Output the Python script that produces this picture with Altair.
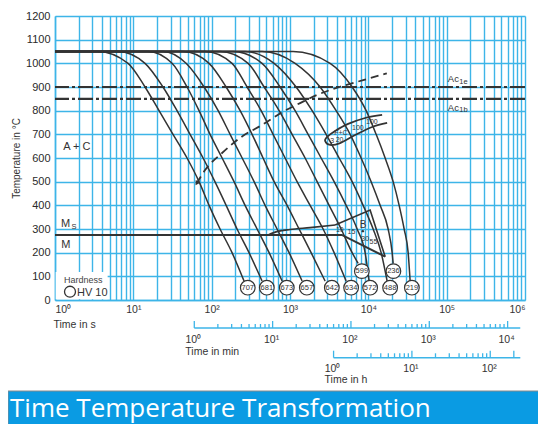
import altair as alt
import pandas as pd

BLUE = "#3db5e8"
INK = "#333333"
FONT = "Liberation Sans"

# ---------------- cooling curves (time in s at the listed temperatures) -------------
TEMPS = [1050, 1050, 1000, 900, 800, 700, 600, 500, 400, 300, 200]
T707 = [1, 3.54, 8.56, 14.1, 21.3, 32.1, 48.5, 69.0, 92.6, 128, 182, 259]
T681 = [1, 6.38, 14.1, 23.9, 36.1, 53.0, 77.7, 110, 153, 211, 300, 440]
T673 = [1, 15.4, 31.2, 48.5, 69.0, 95.4, 136, 193, 267, 380, 541, 793]
T657 = [1, 23.9, 47.1, 80.0, 121, 172, 245, 348, 481, 684, 974, 1427]
T642 = [1, 43.1, 92.6, 153, 231, 328, 453, 627, 918, 1307, 1860, 2808]
T634 = [1, 82.4, 182, 283, 428, 608, 866, 1232, 1806, 2647, 3657, 5207]
T599 = [1, 128, 292, 467, 726, 1064, 1559, 2219, 3158, 4494, 6211, 7409]
T572 = [1, 188, 440, 747, 1162, 1703, 2496, 3657, 5207, 7194, 9100, 10240]
T488 = [1, 267, 627, 1197, 1916, 2891, 4238, 6211, 8582, 11520, 14570, 17380]
T236 = [1, 440, 1162, 2423, 3880, 5856, 8091, 10860, 14150, 17900, 20140, 20740]
T219 = [1, 1095, 3252, 6211, 9374, 12580, 16390, 20740, 24740, 28660, 32240, 34180]
CURVES = [("707", T707, 80), ("681", T681, 80), ("673", T673, 80), ("657", T657, 80),
          ("642", T642, 80), ("634", T634, 80), ("599", T599, 155), ("572", T572, 80),
          ("488", T488, 80), ("236", T236, 155), ("219", T219, 80)]

# hardness circles
HV_LABEL = ["707", "681", "673", "657", "642", "634", "572", "488", "219", "599", "236"]
HV_TIME = [289, 506, 910, 1640, 3420, 6030, 10540, 18970, 35970, 8260, 20900]
HV_TEMP = [52, 52, 52, 52, 52, 52, 52, 52, 52, 122, 122]

# Ac1e / Ac1b
AC_TEMPS = [900, 850]

# martensite line + bainite region
M_TIME = [1, 4590, 16390]
M_TEMP = [275, 275, 183]
BS_TIME = [525, 700, 1000, 1800, 3767]
BS_TEMP = [275, 290, 298, 306, 317]
BTRI_TIME = [3767, 10540, 16390]
BTRI_TEMP = [317, 380, 183]

# pearlite (F+C) loop
P_TIME = [15000, 9100, 5520, 3767, 2978, 2808, 3252, 4365, 6780, 11190, 17380]
P_TEMP = [782, 769, 744, 714, 689, 672, 655, 663, 697, 731, 748]

# dashed precipitation curve
D_TIME = [64.5, 82.4, 134.6, 242, 436, 816, 1346, 2198, 4365, 8590, 17220]
D_TEMP = [493, 549, 620, 690, 739, 796, 832, 866, 901, 929, 958]

# texts in plot
LBL_TEXT = ["A + C", "M", "M", "Ac", "Ac", "B"]
LBL_TIME = [1.27, 1.19, 1.2, 1.035e5, 1.035e5, 7786]
LBL_TEMP = [634, 308, 221, 921, 800, 305]
LBL_SIZE = [11, 11, 11, 9.5, 9.5, 10]
SUB_TEXT = ["S", "1e", "1b"]
SUB_TIME = [1.62, 1.45e5, 1.45e5]
SUB_TEMP = [300, 912, 793]
PCT_TEXT = ["10", "15", "30", "55", "F+C", "3", "20", "100", "100"]
PCT_TIME = [4325, 6083, 9100, 11620, 4467, 3450, 4300, 7362, 11090]
PCT_TEMP = [286, 279, 249, 237, 697, 662, 668, 718, 744]
DOT_TIME = [8510]
DOT_TEMP = [291]

# hardness legend
LEG_BOX = dict(t=[1.02], t2=[4.7], T=[3], T2=[118])

# secondary time axes
MIN_MAJOR = [1, 10, 100, 1000, 10000]
MIN_MINOR = [m * 10 ** k for k in range(4) for m in range(2, 10)]
MIN_SPAN = [1, 14500]
HR_MAJOR = [1, 10, 100, 200]
HR_LABELS = [1, 10, 100]
HR_MINOR = [m * 10 ** k for k in range(2) for m in range(2, 10)]
HR_SPAN = [1, 242]

SUP = {0: "\u2070", 1: "\u00b9", 2: "\u00b2", 3: "\u00b3", 4: "\u2074", 5: "\u2075", 6: "\u2076"}

# ---------------- scales / axes ----------------
XS = alt.Scale(type="log", domain=[1, 1e6], nice=False)
YS = alt.Scale(domain=[0, 1200], nice=False, zero=False)

X_GRID = [m * 10 ** k for k in range(6) for m in range(1, 10)] + [10 ** 6]
label_expr = " : ".join(f"datum.value == {10**k} ? '10{SUP[k]}'" for k in range(7)) + " : ''"

x_axis = alt.Axis(values=X_GRID, labelExpr=label_expr, grid=True, gridColor=BLUE, gridWidth=1.4,
                  domainColor=BLUE, domainWidth=1.5, ticks=False, tickSize=0, labelPadding=4,
                  labelFont=FONT, labelFontSize=10.5, labelColor=INK, labelFlush=True,
                  labelOverlap=False, title="Time in s", titleX=-2, titleY=27, titleAlign="left",
                  titleBaseline="alphabetic", titleFont=FONT, titleFontSize=10.5,
                  titleFontWeight="normal", titleColor=INK)
y_axis = alt.Axis(values=list(range(0, 1201, 100)), format="d", grid=True, gridColor=BLUE,
                  gridWidth=1.4, domainColor=BLUE, domainWidth=1.5, ticks=False, tickSize=0,
                  labelPadding=5, labelFont=FONT, labelFontSize=11, labelColor="#2a2a2a",
                  labelFlush=False, title="Temperature in \u00b0C", titleX=-34, titleY=142,
                  titleAngle=270, titleAlign="center", titleBaseline="bottom", titleFont=FONT,
                  titleFontSize=10, titleFontWeight="normal", titleColor=INK)


def X(f="t"):
    return alt.X(f"{f}:Q", scale=XS, axis=x_axis)


def Y(f="T"):
    return alt.Y(f"{f}:Q", scale=YS, axis=y_axis)


# ---------------- data frames ----------------
rows = []
for hv, times, tend in CURVES:
    temps = TEMPS + [tend]
    for i, (t, T) in enumerate(zip(times, temps)):
        rows.append({"hv": hv, "i": i, "t": t, "T": T})
curves_df = pd.DataFrame(rows)

base = alt.Chart(curves_df).mark_line(color=INK, strokeWidth=1.5, interpolate="monotone").encode(
    x=X(), y=Y(), detail="hv:N", order="i:Q")

legend_box = alt.Chart(pd.DataFrame(LEG_BOX)).mark_rect(fill="white").encode(
    x=X(), x2="t2:Q", y=Y(), y2="T2:Q")

ac_lines = alt.Chart(pd.DataFrame({"T": AC_TEMPS})).mark_rule(
    color=INK, strokeWidth=2.2, strokeDash=[15, 3, 3, 3]).encode(y=Y())

m_line = alt.Chart(pd.DataFrame({"t": M_TIME, "T": M_TEMP, "i": range(len(M_TIME))})).mark_line(
    color=INK, strokeWidth=2).encode(x=X(), y=Y(), order="i:Q")
bs_line = alt.Chart(pd.DataFrame({"t": BS_TIME, "T": BS_TEMP, "i": range(len(BS_TIME))})).mark_line(
    color=INK, strokeWidth=1.6, interpolate="monotone").encode(x=X(), y=Y(), order="i:Q")
btri = alt.Chart(pd.DataFrame({"t": BTRI_TIME, "T": BTRI_TEMP, "i": range(len(BTRI_TIME))})).mark_line(
    color=INK, strokeWidth=1.6).encode(x=X(), y=Y(), order="i:Q")

pearl = alt.Chart(pd.DataFrame({"t": P_TIME, "T": P_TEMP, "i": range(len(P_TIME))})).mark_line(
    color=INK, strokeWidth=1.8, interpolate="cardinal").encode(x=X(), y=Y(), order="i:Q")

dashed = alt.Chart(pd.DataFrame({"t": D_TIME, "T": D_TEMP, "i": range(len(D_TIME))})).mark_line(
    color=INK, strokeWidth=1.8, strokeDash=[8, 5], interpolate="monotone").encode(
    x=X(), y=Y(), order="i:Q")
arrow = alt.Chart(pd.DataFrame({"t": D_TIME[:1], "T": D_TEMP[:1]})).mark_point(
    shape="triangle-up", angle=212, size=28, filled=True, color=INK, opacity=1).encode(x=X(), y=Y())

circ_df = pd.DataFrame({"t": HV_TIME, "T": HV_TEMP, "lab": HV_LABEL})
circles = alt.Chart(circ_df).mark_point(shape="circle", size=215, filled=True, fill="white",
                                        stroke=INK, strokeWidth=1.2, opacity=1).encode(x=X(), y=Y())
circ_txt = alt.Chart(circ_df).mark_text(font=FONT, fontSize=7.5, color=INK, align="center",
                                        baseline="middle").encode(x=X(), y=Y(), text="lab:N")

lbl = alt.Chart(pd.DataFrame({"t": LBL_TIME, "T": LBL_TEMP, "s": LBL_TEXT, "fs": LBL_SIZE})).mark_text(
    font=FONT, color=INK, align="left", baseline="alphabetic").encode(
    x=X(), y=Y(), text="s:N", size=alt.Size("fs:Q", scale=None, legend=None))
sub = alt.Chart(pd.DataFrame({"t": SUB_TIME, "T": SUB_TEMP, "s": SUB_TEXT})).mark_text(
    font=FONT, color=INK, fontSize=7.5, align="left", baseline="alphabetic").encode(
    x=X(), y=Y(), text="s:N")
pct = alt.Chart(pd.DataFrame({"t": PCT_TIME, "T": PCT_TEMP, "s": PCT_TEXT})).mark_text(
    font=FONT, color=INK, fontSize=7, align="center", baseline="alphabetic").encode(
    x=X(), y=Y(), text="s:N")
dot = alt.Chart(pd.DataFrame({"t": DOT_TIME, "T": DOT_TEMP})).mark_point(
    shape="circle", size=6, filled=True, color=INK, opacity=1).encode(x=X(), y=Y())

leg_df = pd.DataFrame({"t": [1.30], "T": [72]})
leg_title = alt.Chart(leg_df).mark_text(text="Hardness", font=FONT, fontSize=9, color="#444",
                                        align="left", baseline="alphabetic").encode(x=X(), y=Y())
leg_circle = alt.Chart(pd.DataFrame({"t": [1.554], "T": [35]})).mark_point(
    shape="circle", size=120, stroke=INK, strokeWidth=1.3, opacity=1).encode(x=X(), y=Y())
leg_text = alt.Chart(pd.DataFrame({"t": [1.91], "T": [15]})).mark_text(
    text="HV 10", font=FONT, fontSize=11, color=INK, align="left", baseline="alphabetic").encode(
    x=X(), y=Y())


# ---------------- secondary time axes (minutes, hours) ----------------
def sec_axis(major, minor, labels, span, unit, title, y_line, y_minor, y_major, y_lab, y_title):
    layers = []
    span_df = pd.DataFrame({"t": [span[0] * unit], "t2": [span[1] * unit]})
    layers.append(alt.Chart(span_df).mark_rule(color=BLUE, strokeWidth=1.5).encode(
        x=X(), x2="t2:Q", y=alt.value(y_line)))
    layers.append(alt.Chart(pd.DataFrame({"t": [v * unit for v in minor]})).mark_rule(
        color=BLUE, strokeWidth=1.3).encode(x=X(), y=alt.value(y_line), y2=alt.value(y_minor)))
    layers.append(alt.Chart(pd.DataFrame({"t": [v * unit for v in major]})).mark_rule(
        color=BLUE, strokeWidth=1.3).encode(x=X(), y=alt.value(y_line), y2=alt.value(y_major)))
    lab_df = pd.DataFrame({"t": [v * unit for v in labels],
                           "s": ["10" + SUP[len(str(v)) - 1] for v in labels]})
    layers.append(alt.Chart(lab_df).mark_text(font=FONT, fontSize=10.5, color=INK, align="center",
                                              baseline="alphabetic", dx=-1).encode(
        x=X(), y=alt.value(y_lab), text="s:N"))
    layers.append(alt.Chart(pd.DataFrame({"t": [unit]})).mark_text(
        text=title, font=FONT, fontSize=10.5, color=INK, align="left", baseline="alphabetic",
        dx=-9).encode(x=X(), y=alt.value(y_title)))
    return layers


min_layers = sec_axis(MIN_MAJOR, MIN_MINOR, MIN_MAJOR, MIN_SPAN, 60, "Time in min",
                      312, 308, 305, 327, 339)
hr_layers = sec_axis(HR_MAJOR, HR_MINOR, HR_LABELS, HR_SPAN, 3600, "Time in h",
                     341.7, 337.3, 334.7, 356, 367)

# ---------------- banner ----------------
one = pd.DataFrame({"a": [0]})
banner = alt.Chart(one).mark_rect(fill="#0a9be3", stroke="#8a8a8a", strokeWidth=1).encode(
    x=alt.value(-47), x2=alt.value(484), y=alt.value(375), y2=alt.value(420))
banner_txt = alt.Chart(one).mark_text(
    text="Time Temperature Transformation", font="Open Sans", fontSize=26, color="white",
    align="left", baseline="alphabetic").encode(x=alt.value(-45), y=alt.value(401))

chart = alt.layer(
    base, legend_box, ac_lines, m_line, bs_line, btri, pearl, dashed, arrow,
    circles, circ_txt, lbl, sub, pct, dot, leg_title, leg_circle, leg_text,
    *min_layers, *hr_layers, banner, banner_txt
).properties(
    width=470, height=284,
    autosize=alt.AutoSizeParams(type="none"),
    padding={"left": 47, "top": 8, "right": 13, "bottom": 124},
    background="white",
).configure_view(strokeWidth=0)

chart.save("out.html", embed_options={"renderer": "svg", "actions": False})
